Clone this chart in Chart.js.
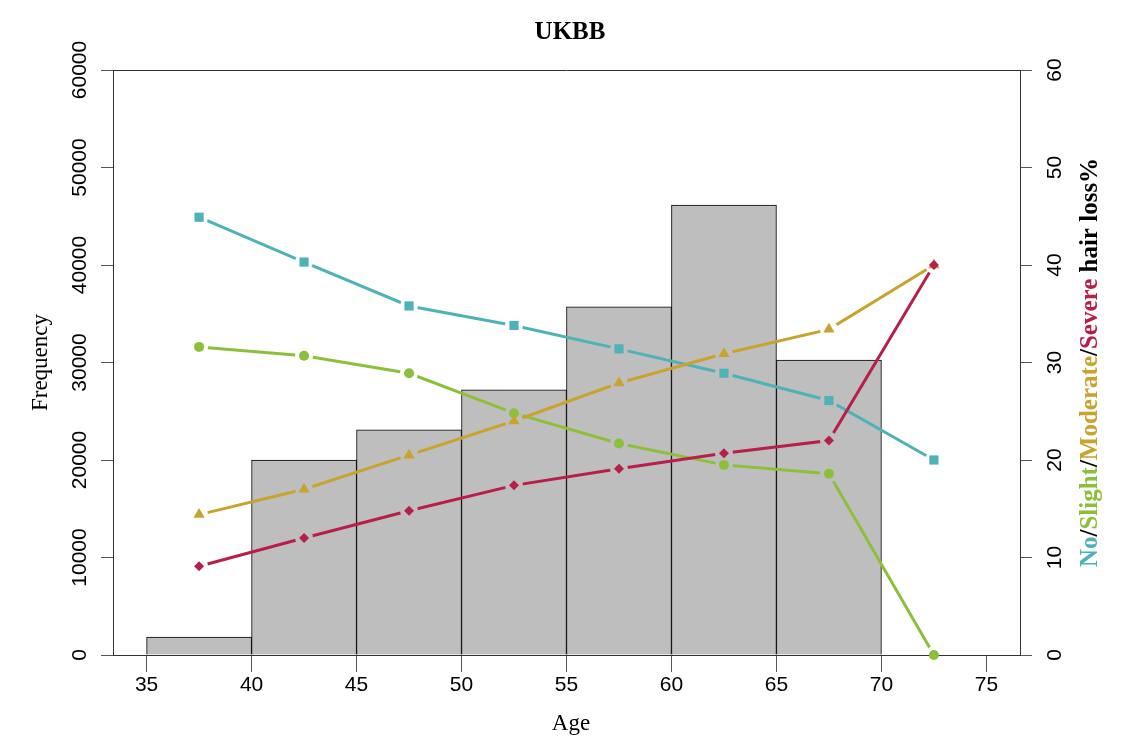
<!DOCTYPE html>
<html>
<head>
<meta charset="utf-8">
<script src="https://cdn.jsdelivr.net/npm/chart.js@4.4.1/dist/chart.umd.min.js"></script>
<style>
  html, body { margin: 0; padding: 0; background: #ffffff; }
  #c { display: block; }
</style>
</head>
<body>
<canvas id="c" width="1142" height="754"></canvas>
<script>
// ---- data ----
const binStarts = [35, 40, 45, 50, 55, 60, 65];
const binMids = [37.5, 42.5, 47.5, 52.5, 57.5, 62.5, 67.5];
const frequency = [1850, 20000, 23100, 27200, 35700, 46150, 30250];
const lineAges = [37.5, 42.5, 47.5, 52.5, 57.5, 62.5, 67.5, 72.5];
const noLoss = [44.9, 40.3, 35.8, 33.8, 31.4, 28.9, 26.1, 20.0];
const slightLoss = [31.6, 30.7, 28.9, 24.8, 21.7, 19.5, 18.6, 0];
const moderateLoss = [14.4, 17.0, 20.5, 24.0, 27.9, 30.9, 33.4, 40.0];
const severeLoss = [9.1, 12.0, 14.8, 17.4, 19.1, 20.7, 22.0, 40.0];
const xTicks = [35, 40, 45, 50, 55, 60, 65, 70, 75];
const leftTicks = [0, 10000, 20000, 30000, 40000, 50000, 60000];
const rightTicks = [0, 10, 20, 30, 40, 50, 60];

const C_NO = '#4DB3B6';
const C_SLIGHT = '#8DC03A';
const C_MOD = '#C8A32E';
const C_SEV = '#B71F4B';

const TICK_FONT = '21px "Liberation Sans", Arial, sans-serif';
const SERIF = '"Liberation Serif", "Times New Roman", serif';

function series(vals) { return vals.map((v, i) => ({ x: lineAges[i], y: v })); }

// Plugin: R-style "type=b" gaps between line and points
const gapPlugin = {
  id: 'gaps',
  beforeDatasetDraw(chart, args) {
    const ds = chart.data.datasets[args.index];
    if (!ds.gap) return;
    const ctx = chart.ctx;
    ctx.save();
    ctx.beginPath();
    ctx.rect(0, 0, chart.width, chart.height);
    args.meta.data.forEach(p => {
      ctx.moveTo(p.x + ds.gap, p.y);
      ctx.arc(p.x, p.y, ds.gap, 0, Math.PI * 2);
    });
    ctx.clip('evenodd');
  },
  afterDatasetDraw(chart, args) {
    const ds = chart.data.datasets[args.index];
    if (!ds.gap) return;
    chart.ctx.restore();
    args.meta.data.forEach(p => p.draw(chart.ctx, chart.chartArea));
  }
};

// Plugin: text and frame in R style
const textPlugin = {
  id: 'rtext',
  afterDraw(chart) {
    const ctx = chart.ctx;
    const a = chart.chartArea;
    const yl = chart.scales.y, yr = chart.scales.y2;
    ctx.save();
    // top frame line
    ctx.strokeStyle = '#333';
    ctx.lineWidth = 1;
    ctx.beginPath();
    ctx.moveTo(a.left, Math.round(a.top) + 0.5);
    ctx.lineTo(a.right, Math.round(a.top) + 0.5);
    ctx.stroke();

    ctx.fillStyle = '#000';
    ctx.textAlign = 'center';
    ctx.textBaseline = 'middle';
    // rotated tick labels
    ctx.font = TICK_FONT;
    leftTicks.forEach(v => {
      ctx.save();
      ctx.translate(80, yl.getPixelForValue(v));
      ctx.rotate(-Math.PI / 2);
      ctx.fillText(String(v), 0, 0);
      ctx.restore();
    });
    rightTicks.forEach(v => {
      ctx.save();
      ctx.translate(1055, yr.getPixelForValue(v));
      ctx.rotate(-Math.PI / 2);
      ctx.fillText(String(v), 0, 0);
      ctx.restore();
    });
    // title
    ctx.font = 'bold 25px ' + SERIF;
    ctx.fillText('UKBB', 570, 33);
    // axis titles
    ctx.font = '23px ' + SERIF;
    ctx.fillText('Age', 571, 724);
    ctx.save();
    ctx.translate(41, (a.top + a.bottom) / 2);
    ctx.rotate(-Math.PI / 2);
    ctx.fillText('Frequency', 0, 0);
    ctx.restore();
    // right colored title
    const parts = [
      ['No', C_NO], ['/', '#000'], ['Slight', C_SLIGHT], ['/', '#000'],
      ['Moderate', C_MOD], ['/', '#000'], ['Severe', C_SEV], [' hair loss%', '#000']
    ];
    ctx.font = 'bold 25px ' + SERIF;
    const total = parts.reduce((s, p) => s + ctx.measureText(p[0]).width, 0);
    ctx.save();
    ctx.translate(1091, (a.top + a.bottom) / 2);
    ctx.rotate(-Math.PI / 2);
    ctx.textAlign = 'left';
    let xx = -total / 2;
    parts.forEach(p => {
      ctx.fillStyle = p[1];
      ctx.fillText(p[0], xx, 0);
      xx += ctx.measureText(p[0]).width;
    });
    ctx.restore();
    ctx.restore();
  }
};

function lineDS(label, vals, color, style, radius, order) {
  return {
    type: 'line', label, data: series(vals), yAxisID: 'y2', xAxisID: 'x',
    borderColor: color, backgroundColor: color, borderWidth: 3,
    pointStyle: style, pointRadius: radius, pointHoverRadius: radius,
    pointBackgroundColor: color, pointBorderColor: color, pointBorderWidth: 0,
    tension: 0, fill: false, order, gap: 9, clip: false
  };
}

new Chart(document.getElementById('c'), {
  type: 'bar',
  data: {
    datasets: [
      {
        type: 'bar', label: 'Frequency',
        data: binMids.map((m, i) => ({ x: m, y: frequency[i] })),
        yAxisID: 'y', xAxisID: 'x',
        backgroundColor: '#BEBEBE', borderColor: '#000', borderWidth: 1,
        borderSkipped: 'bottom',
        barPercentage: 1, categoryPercentage: 1, order: 100
      },
      lineDS('No', noLoss, C_NO, 'rect', 6.5, 4),
      lineDS('Slight', slightLoss, C_SLIGHT, 'circle', 5, 3),
      lineDS('Moderate', moderateLoss, C_MOD, 'triangle', 6.5, 2),
      lineDS('Severe', severeLoss, C_SEV, 'rectRot', 5, 1)
    ]
  },
  options: {
    responsive: false,
    animation: false,
    events: [],
    layout: { padding: { top: 70, left: 0, right: 0, bottom: 0 } },
    plugins: { legend: { display: false }, title: { display: false }, tooltip: { enabled: false } },
    scales: {
      x: {
        type: 'linear', position: 'bottom', min: 33.4, max: 76.6, offset: false,
        afterBuildTicks: s => { s.ticks = xTicks.map(v => ({ value: v })); },
        afterFit: s => { s.height = 99; },
        grid: { offset: false, drawOnChartArea: false, drawTicks: true, tickLength: 17, color: '#555', lineWidth: 1 },
        border: { display: true, color: '#333', width: 1 },
        ticks: { autoSkip: false, maxRotation: 0, minRotation: 0, padding: 1,
                 color: '#000', font: { family: '"Liberation Sans", Arial, sans-serif', size: 21 },
                 callback: v => String(v) }
      },
      y: {
        type: 'linear', position: 'left', min: 0, max: 60000,
        afterBuildTicks: s => { s.ticks = leftTicks.map(v => ({ value: v })); },
        afterFit: s => { s.width = 113; },
        grid: { drawOnChartArea: false, drawTicks: true, tickLength: 12, color: '#555', lineWidth: 1 },
        border: { display: true, color: '#333', width: 1 },
        ticks: { color: 'rgba(0,0,0,0)', font: { size: 21 } }
      },
      y2: {
        type: 'linear', position: 'right', min: 0, max: 60,
        afterBuildTicks: s => { s.ticks = rightTicks.map(v => ({ value: v })); },
        afterFit: s => { s.width = 122; },
        grid: { drawOnChartArea: false, drawTicks: true, tickLength: 12, color: '#555', lineWidth: 1 },
        border: { display: true, color: '#333', width: 1 },
        ticks: { color: 'rgba(0,0,0,0)', font: { size: 21 } }
      }
    }
  },
  plugins: [gapPlugin, textPlugin]
});
</script>
</body>
</html>
